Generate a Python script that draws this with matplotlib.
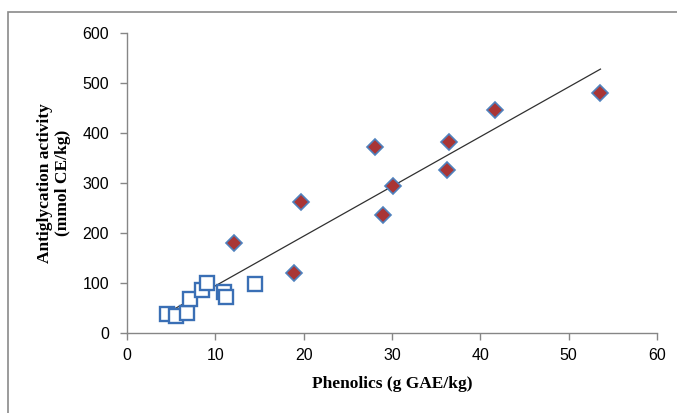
import numpy as np
import matplotlib
matplotlib.use("Agg")
import matplotlib.pyplot as plt
from matplotlib.patches import Rectangle

# Data
diamond_x = [12.1, 18.9, 19.7, 28.1, 29.0, 30.1, 36.2, 36.4, 41.7, 53.6]
diamond_y = [180, 120, 262, 372, 236, 294, 326, 382, 446, 480]
square_x = [4.5, 5.6, 6.8, 7.1, 8.5, 9.1, 11.0, 11.2, 14.5]
square_y = [38, 34, 41, 68, 87, 101, 82, 73, 99]

x_ticks = [0, 10, 20, 30, 40, 50, 60]
y_ticks = [0, 100, 200, 300, 400, 500, 600]

fig = plt.figure(figsize=(6.77, 4.13), dpi=100)
ax = fig.add_axes([127 / 677, 1 - 333 / 413, 530 / 677, 300 / 413])

# frame around the chart area
fig.patches.append(Rectangle((8 / 677, -0.1), 2, (413 - 12) / 413 + 0.1,
                             transform=fig.transFigure, fill=False,
                             edgecolor='#8a8a8a', lw=1.2))

# linear trend over all points
all_x = np.array(diamond_x + square_x)
all_y = np.array(diamond_y + square_y)
slope, intercept = np.polyfit(all_x, all_y, 1)
xs = np.array([all_x.min(), all_x.max()])
ax.plot(xs, intercept + slope * xs, color='#303030', lw=0.9, zorder=2)

ax.plot(square_x, square_y, 's', ms=10, mfc='white', mec='#3a6fb5',
        mew=1.7, linestyle='none', zorder=3)
ax.plot(diamond_x, diamond_y, 'D', ms=8.5, mfc='#a93535', mec='#4f81bd',
        mew=1.2, linestyle='none', zorder=4)

ax.set_xlim(0, 60)
ax.set_ylim(0, 600)
ax.set_xticks(x_ticks)
ax.set_yticks(y_ticks)

for s in ['top', 'right']:
    ax.spines[s].set_visible(False)
for s in ['left', 'bottom']:
    ax.spines[s].set_color('#868686')
    ax.spines[s].set_linewidth(1.0)

ax.tick_params(axis='both', colors='#868686', length=5, width=1.0,
               labelcolor='black', labelsize=11.5)
for lab in ax.get_xticklabels() + ax.get_yticklabels():
    lab.set_family('Liberation Sans')
ax.tick_params(axis='x', pad=6)
ax.tick_params(axis='y', pad=8)

ax.set_xlabel('Phenolics (g GAE/kg)', family='Liberation Serif',
              fontweight='bold', fontsize=12.5, labelpad=9)
fig.text(54 / 677, 1 - 183 / 413, 'Antiglycation activity\n(mmol CE/kg)',
         family='Liberation Serif', fontweight='bold', fontsize=12.5,
         rotation=90, ha='center', va='center', linespacing=1.2)

fig.savefig('out.png', dpi=100)
